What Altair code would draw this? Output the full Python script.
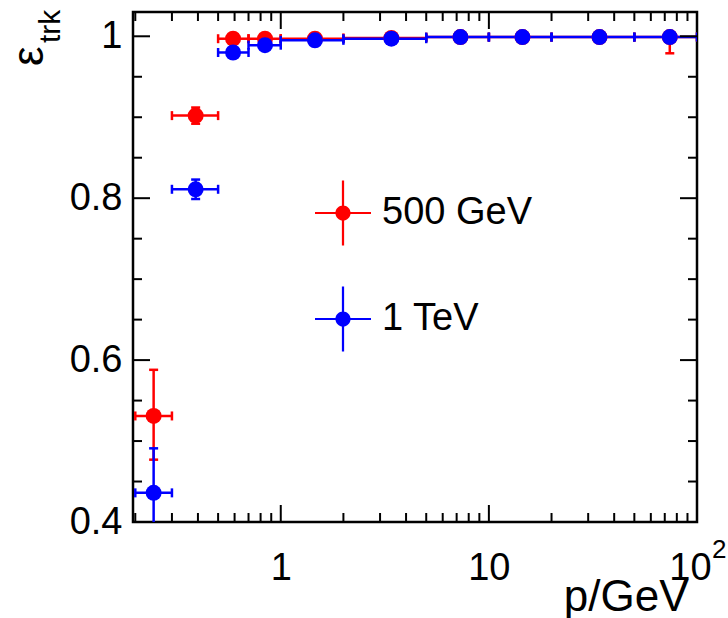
import altair as alt
import pandas as pd

# ---------------- data ----------------
series_names = ["500 GeV", "1 TeV"]
series_colors = ["#ff0000", "#0000ff"]

p_center = [0.245, 0.39, 0.59, 0.84, 1.46, 3.4, 7.3, 14.5, 34, 74]
p_low = [0.2, 0.3, 0.5, 0.7, 1, 2, 5, 10, 20, 50]
p_high = [0.3, 0.5, 0.7, 1, 2, 5, 10, 20, 50, 100]

eff_500 = [0.531, 0.902, 0.997, 0.997, 0.997, 0.998, 0.999, 0.999, 0.999, 0.999]
err_500_low = [0.054, 0.010, 0.003, 0.002, 0.002, 0.001, 0.001, 0.001, 0.001, 0.020]
err_500_high = [0.057, 0.010, 0.003, 0.002, 0.002, 0.001, 0.001, 0.001, 0.001, 0.001]

eff_1tev = [0.436, 0.811, 0.980, 0.989, 0.995, 0.997, 0.999, 0.999, 0.999, 0.999]
err_1tev_low = [0.055, 0.012, 0.005, 0.003, 0.002, 0.001, 0.001, 0.001, 0.001, 0.001]
err_1tev_high = [0.055, 0.012, 0.005, 0.003, 0.002, 0.001, 0.001, 0.001, 0.001, 0.001]

x_label_values = [1, 10, 100]
x_major_ticks = [1, 10]
x_minor_ticks = [0.2, 0.3, 0.4, 0.5, 0.6, 0.7, 0.8, 0.9,
                 2, 3, 4, 5, 6, 7, 8, 9,
                 20, 30, 40, 50, 60, 70, 80, 90]
y_major_ticks = [0.4, 0.6, 0.8, 1.0]
y_minor_ticks = [0.45, 0.5, 0.55, 0.65, 0.7, 0.75, 0.85, 0.9, 0.95]

# ---------------- table ----------------
rows = []
for name, eff, elo, ehi in [
    (series_names[0], eff_500, err_500_low, err_500_high),
    (series_names[1], eff_1tev, err_1tev_low, err_1tev_high),
]:
    for i in range(len(p_center)):
        rows.append({
            "series": name,
            "x": p_center[i], "xlo": p_low[i], "xhi": p_high[i],
            "y": eff[i], "ylo": eff[i] - elo[i], "yhi": eff[i] + ehi[i],
        })
df = pd.DataFrame(rows)

W, H = 564, 510
FONT = "Liberation Sans"

xs = alt.Scale(type="log", domain=[0.195, 100], nice=False)
ys = alt.Scale(domain=[0.4, 1.03], nice=False, zero=False)
cs = alt.Scale(domain=series_names, range=series_colors)

x_axis = alt.Axis(
    values=x_label_values,
    labelExpr="datum.value >= 100 ? '10' : format(datum.value, 'd')",
    ticks=False, domain=False, grid=False,
    labelFont=FONT, labelFontSize=38, labelColor="black",
    labelPadding=27, labelFlush=False, labelOverlap=False,
    labelOffset={"condition": {"test": "datum.value >= 100", "value": -7}, "value": 0},
    title="p/GeV", titleFont=FONT, titleFontSize=44, titleFontWeight="normal",
    titleColor="black", titleAnchor="end", titleAlign="right",
    titleX=555, titleY=88, titleBaseline="alphabetic",
)
y_axis = alt.Axis(
    values=y_major_ticks,
    labelExpr="datum.value >= 1 ? '1' : format(datum.value, '.1f')",
    ticks=False, domain=False, grid=False,
    labelFont=FONT, labelFontSize=38, labelColor="black",
    labelPadding=11, labelFlush=False, labelOverlap=False,
    title=None,
)


def X(field):
    return alt.X(field, scale=xs, axis=x_axis)


def Y(field):
    return alt.Y(field, scale=ys, axis=y_axis)


base = alt.Chart(df)

# error bars, one set of layers per series (red first, then blue)
err_layers = []
for name, colr in zip(series_names, series_colors):
    b = base.transform_filter(alt.datum.series == name)
    err_layers += [
        b.mark_rule(strokeWidth=2.5, clip=True, color=colr).encode(
            x=X("xlo:Q"), x2="xhi:Q", y=Y("y:Q")),
        b.mark_rule(strokeWidth=2.5, clip=True, color=colr).encode(
            x=X("x:Q"), y=Y("ylo:Q"), y2="yhi:Q"),
        b.mark_tick(orient="vertical", size=9, thickness=2.5, clip=True, opacity=1, color=colr).encode(
            x=X("xlo:Q"), y=Y("y:Q")),
        b.mark_tick(orient="vertical", size=9, thickness=2.5, clip=True, opacity=1, color=colr).encode(
            x=X("xhi:Q"), y=Y("y:Q")),
        b.mark_tick(orient="horizontal", size=9, thickness=2.5, clip=True, opacity=1, color=colr).encode(
            x=X("x:Q"), y=Y("ylo:Q")),
        b.mark_tick(orient="horizontal", size=9, thickness=2.5, clip=True, opacity=1, color=colr).encode(
            x=X("x:Q"), y=Y("yhi:Q")),
    ]

legend_symbol = ("M-1,-0.04H1V0.04H-1Z "
                 "M-0.04,-1.16H0.04V1.16H-0.04Z "
                 "M0.27,0A0.27,0.27 0 1,1 -0.27,0A0.27,0.27 0 1,1 0.27,0Z")

points = base.mark_point(filled=True, size=256, opacity=1, clip=True).encode(
    x=X("x:Q"), y=Y("y:Q"),
    color=alt.Color("series:N", scale=cs, legend=alt.Legend(
        orient="none", legendX=182, legendY=173, title=None,
        symbolType=legend_symbol, symbolSize=3136, symbolStrokeWidth=0,
        symbolOpacity=1, labelFont=FONT, labelFontSize=38, labelColor="black",
        labelOffset=11, labelLimit=400, rowPadding=40, padding=0,
    )))

# ---------------- frame ticks (inward) ----------------
def xticks(vals, length):
    d = pd.DataFrame({"v": vals})
    bottom = alt.Chart(d).mark_rule(color="black", strokeWidth=2).encode(
        x=X("v:Q"), y=alt.value(H), y2=alt.value(H - length))
    top = alt.Chart(d).mark_rule(color="black", strokeWidth=2).encode(
        x=X("v:Q"), y=alt.value(0), y2=alt.value(length))
    return [bottom, top]


def yticks(vals, length):
    d = pd.DataFrame({"v": vals})
    left = alt.Chart(d).mark_rule(color="black", strokeWidth=2).encode(
        y=Y("v:Q"), x=alt.value(0), x2=alt.value(length))
    right = alt.Chart(d).mark_rule(color="black", strokeWidth=2).encode(
        y=Y("v:Q"), x=alt.value(W), x2=alt.value(W - length))
    return [left, right]


tick_layers = (xticks(x_major_ticks, 17) + xticks(x_minor_ticks, 9)
               + yticks(y_major_ticks, 17) + yticks(y_minor_ticks, 9))

# ---------------- text annotations ----------------
eps = alt.Chart(pd.DataFrame({"t": ["ε"]})).mark_text(
    angle=270, align="left", baseline="alphabetic", fontSize=44, font=FONT,
    color="black").encode(text="t:N", x=alt.value(-90), y=alt.value(54))
trk = alt.Chart(pd.DataFrame({"t": ["trk"]})).mark_text(
    angle=270, align="left", baseline="alphabetic", fontSize=30, font=FONT,
    color="black").encode(text="t:N", x=alt.value(-73), y=alt.value(31))
sup = alt.Chart(pd.DataFrame({"v": [100], "t": ["2"]})).mark_text(
    align="left", baseline="alphabetic", fontSize=26, font=FONT, dx=15,
    color="black").encode(x=X("v:Q"), y=alt.value(546), text="t:N")

chart = alt.layer(
    *err_layers, points,
    *tick_layers, eps, trk, sup,
).properties(
    width=W, height=H,
    autosize=alt.AutoSizeParams(type="none"),
    padding={"left": 133, "top": 12, "right": 31, "bottom": 96},
).configure_view(stroke="black", strokeWidth=2.5)

chart.save("out.html", embed_options={"renderer": "svg", "actions": False})
